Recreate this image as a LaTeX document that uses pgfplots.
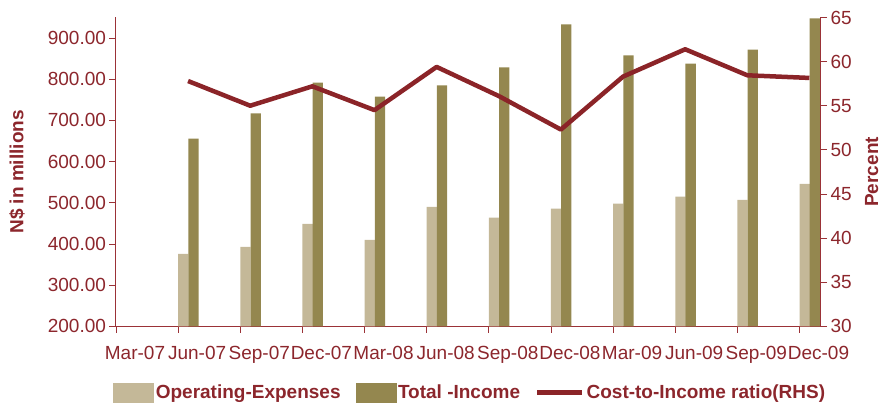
\documentclass[border=0pt]{standalone}
\usepackage{pgfplots}
\pgfplotsset{compat=1.18}
\usepackage{fontspec}
\setmainfont{Liberation Sans}
\definecolor{lightc}{RGB}{196,184,152}
\definecolor{darkc}{RGB}{148,135,79}
\definecolor{linec}{RGB}{139,36,40}
\definecolor{textc}{RGB}{140,38,44}
\definecolor{axisc}{RGB}{155,50,55}
\begin{document}
\begin{tikzpicture}[font=\fontsize{19}{22}\selectfont]
\useasboundingbox (-116pt,-76.7pt) rectangle (766pt,326.3pt);
\pgfplotsset{
  common/.style={
    scale only axis, width=704.6pt, height=308.8pt,
    xmin=0, xmax=11.34,
    axis line style={axisc, line width=1pt, -},
    tick align=outside, major tick length=6.5pt,
    tick style={axisc, line width=0.8pt},
    ticklabel style={textc, font=\fontsize{19}{22}\selectfont},
    label style={textc, font=\bfseries\fontsize{19}{22}\selectfont},
    /pgf/number format/assume math mode=true,
    clip=true,
  }
}
\begin{axis}[common,
  ymin=200, ymax=950,
  axis x line*=bottom, axis y line*=left,
  xtick={0,...,11},
  xticklabels={Mar-07,Jun-07,Sep-07,Dec-07,Mar-08,Jun-08,Sep-08,Dec-08,Mar-09,Jun-09,Sep-09,Dec-09},
  xticklabel style={xshift=19pt, inner sep=0pt, yshift=-13pt},
  ytick={200,300,...,900},
  yticklabel style={/pgf/number format/.cd, fixed, fixed zerofill, precision=2},
  ylabel={N\$ in millions},
  ylabel style={at={(axis description cs:0,0.5)}, yshift=99pt, anchor=center},
]
\addplot[ybar, bar width=10.3pt, bar shift=5.2pt, fill=lightc, draw=none] coordinates {
(1,376) (2,393) (3,449) (4,410) (5,490) (6,464) (7,486) (8,498) (9,515) (10,507) (11,546)};
\addplot[ybar, bar width=10.3pt, bar shift=15.4pt, fill=darkc, draw=none] coordinates {
(1,656) (2,717) (3,792) (4,758) (5,785) (6,829) (7,933) (8,858) (9,838) (10,872) (11,948)};
\end{axis}
\begin{axis}[common,
  ymin=30, ymax=65,
  axis x line=none, axis y line*=right,
  ytick={30,35,...,65},
  ylabel={Percent},
  ylabel style={at={(axis description cs:1,0.5)}, yshift=-51pt, anchor=center},
  legend columns=3,
  legend style={at={(axis description cs:0.5,0)}, anchor=center, yshift=-66pt, xshift=2pt,
    draw=none, fill=none, inner sep=0pt,
    font=\bfseries\fontsize{19}{22}\selectfont, text=textc,
    nodes={inner sep=2pt},
    /tikz/every even column/.append style={column sep=13pt}},
]
\addlegendimage{legend image code/.code={\fill[lightc] (0pt,-9.5pt) rectangle (40pt,9.5pt);}}
\addlegendentry{Operating-Expenses}
\addlegendimage{legend image code/.code={\fill[darkc] (0pt,-9.5pt) rectangle (40pt,9.5pt);}}
\addlegendentry{Total -Income}
\addplot[linec, line width=4.5pt, line join=round,
  legend image code/.code={\draw[linec, line width=4.5pt] (0pt,0pt) -- (45pt,0pt);}]
  coordinates {(1.16,57.8) (2.16,55.0) (3.16,57.2) (4.16,54.5) (5.16,59.4) (6.16,56.1)
  (7.16,52.3) (8.16,58.3) (9.16,61.4) (10.16,58.45) (11.16,58.15)};
\addlegendentry{Cost-to-Income ratio(RHS)}
\end{axis}
\end{tikzpicture}
\end{document}
